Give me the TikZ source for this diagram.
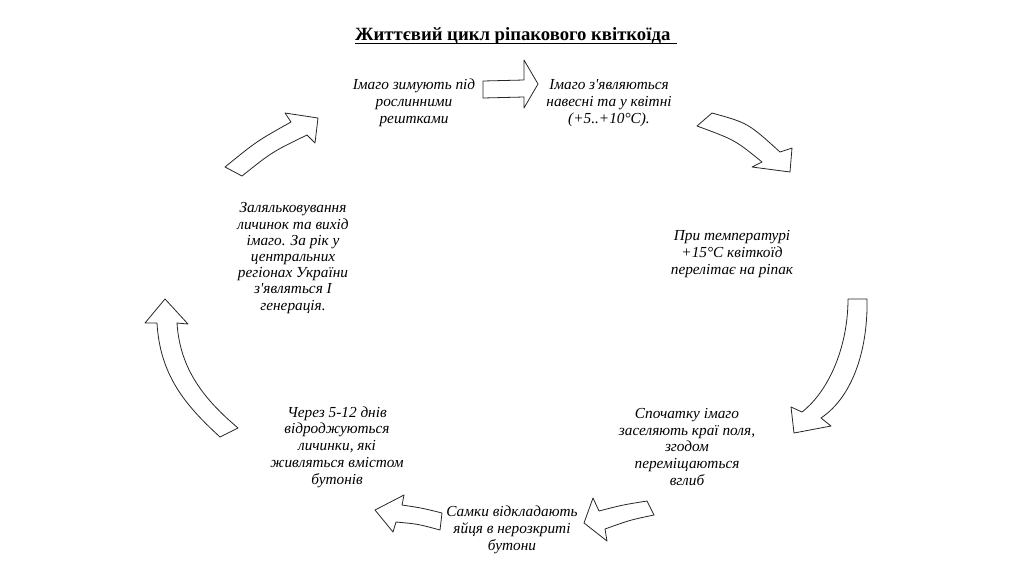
\documentclass[tikz,border=0pt]{standalone}
\usepackage{fontspec}
\setmainfont{Liberation Serif}[Ligatures=TeXOff]
\begin{document}
\begin{tikzpicture}[x=1pt,y=-1pt,
  lbl/.style={font=\itshape\fontsize{15.3}{16.8}\selectfont, align=center, inner sep=0pt},
  blockarrow/.style={draw=black!85, line width=0.8pt, fill=white, line join=round}]
\useasboundingbox (0,0) rectangle (1024,574);
% title
\node[anchor=base west, inner sep=0pt, font=\bfseries\fontsize{18.7}{22}\selectfont] (title) at (355,40) {Життєвий цикл ріпакового квіткоїда};
\draw[line width=0.9pt] ([yshift=-3pt]title.base west) -- ([yshift=-3pt,xshift=6pt]title.base east);
% texts
\node[lbl] (t1) at (414,103) {Імаго зимують під\\рослинними\\рештками};
\node[lbl] (t2) at (609,103) {Імаго з'являються\\навесні та у квітні\\(+5..+10°C).};
\node[lbl] (t3) at (732,254) {При температурі\\+15°C квіткоїд\\перелітає на ріпак};
\node[lbl] (t4) at (687,447) {Спочатку імаго\\заселяють краї поля,\\згодом\\переміщаються\\вглиб};
\node[lbl] (t5) at (512,530) {Самки відкладають\\яйця в нерозкриті\\бутони};
\node[lbl] (t6) at (337,447) {Через 5-12 днів\\відроджуються\\личинки, які\\живляться вмістом\\бутонів};
\node[lbl, font=\itshape\fontsize{15.3}{16.2}\selectfont] (t7) at (293,258) {Заляльковування\\личинок та вихід\\імаго. За рік у\\центральних\\регіонах України\\з'являться І\\генерація.};
% arrows
\draw[blockarrow] (483,81) -- (524,80) -- (524,60) -- (538,84) -- (524,108) -- (524,97) -- (483,98) -- cycle;
\draw[blockarrow] (712,113) .. controls (748,123) .. (780,152) -- (792,148) -- (790,172) -- (752,167) -- (762,162) .. controls (735,140) .. (697,126) -- cycle;
\draw[blockarrow] (848,299) -- (867,299) .. controls (868,345) and (855,395) .. (821,418) -- (831,426) -- (794,433) -- (791,407) -- (802,412) .. controls (830,390) and (848,345) .. (848,299) -- cycle;
\draw[blockarrow] (647,501) -- (654,515) .. controls (630,520) .. (605,529) -- (607,541) -- (584,523) -- (593,498) -- (599,511) .. controls (622,505) .. (647,501) -- cycle;
\draw[blockarrow] (375,510) -- (404,495) -- (402,505) .. controls (422,508) .. (442,513) -- (440,530) .. controls (418,524) .. (396,522) -- (393,532) -- cycle;
\draw[blockarrow] (165,299) -- (188,324) -- (177,323) .. controls (180,370) and (205,400) .. (238,428) -- (220,437) .. controls (185,405) and (160,375) .. (157,323) -- (145,323) -- cycle;
\draw[blockarrow] (225,167) .. controls (257,141) .. (291,122) -- (285,113) -- (318,118) -- (315,143) -- (307,135) .. controls (272,152) .. (242,176) -- cycle;
\end{tikzpicture}
\end{document}
